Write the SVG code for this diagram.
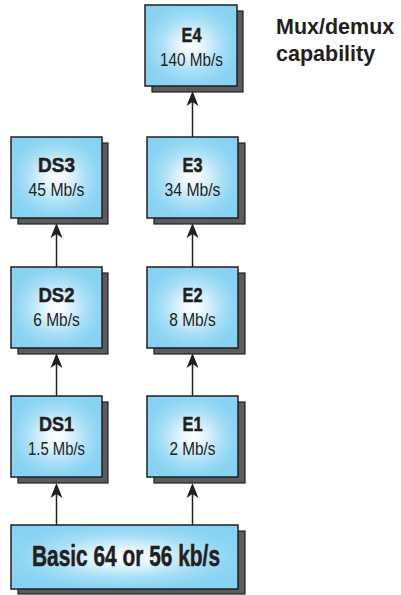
<svg xmlns="http://www.w3.org/2000/svg" width="401" height="595" viewBox="0 0 401 595">
<defs>
<radialGradient id="g" cx="0.5" cy="0.5" r="0.6">
<stop offset="0" stop-color="#ffffff"/>
<stop offset="0.15" stop-color="#f0fafe"/>
<stop offset="0.55" stop-color="#a8dff6"/>
<stop offset="0.8" stop-color="#8cd5f3"/>
<stop offset="1" stop-color="#86d2f2"/>
</radialGradient>
<style>
.sh{fill:#5b5b5d;stroke:#231f20;stroke-width:1.2}
.bx{fill:url(#g);stroke:#231f20;stroke-width:1.5}
.t{font-family:"Liberation Sans",Arial,sans-serif;font-weight:bold;font-size:21px;fill:#231f20;stroke:#231f20;stroke-width:0.5;text-anchor:middle}
.s{font-family:"Liberation Sans",Arial,sans-serif;font-size:18.5px;fill:#231f20;text-anchor:middle}
.b{font-family:"Liberation Sans",Arial,sans-serif;font-weight:bold;font-size:30px;fill:#231f20;stroke:#231f20;stroke-width:0.5;text-anchor:middle}
.c{stroke:#231f20;stroke-width:1.5;fill:none}
.a{fill:#231f20}
.lab{font-family:"Liberation Sans",Arial,sans-serif;font-weight:bold;font-size:21.5px;fill:#231f20}
</style>
</defs>
<g id="connectors">
<line class="c" x1="56.5" y1="525" x2="56.5" y2="486"/>
<path class="a" d="M56.5,483 l6,15 l-6,-4 l-6,4 Z"/>
<line class="c" x1="192.5" y1="525" x2="192.5" y2="486"/>
<path class="a" d="M192.5,483 l6,15 l-6,-4 l-6,4 Z"/>
<line class="c" x1="56.5" y1="396" x2="56.5" y2="356"/>
<path class="a" d="M56.5,353 l6,15 l-6,-4 l-6,4 Z"/>
<line class="c" x1="192.5" y1="396" x2="192.5" y2="356"/>
<path class="a" d="M192.5,353 l6,15 l-6,-4 l-6,4 Z"/>
<line class="c" x1="56.5" y1="267" x2="56.5" y2="226"/>
<path class="a" d="M56.5,223 l6,15 l-6,-4 l-6,4 Z"/>
<line class="c" x1="192.5" y1="267" x2="192.5" y2="226"/>
<path class="a" d="M192.5,223 l6,15 l-6,-4 l-6,4 Z"/>
<line class="c" x1="192.5" y1="137" x2="192.5" y2="94"/>
<path class="a" d="M192.5,91 l6,15 l-6,-4 l-6,4 Z"/>
</g>
<g id="E4">
<rect class="sh" x="152" y="11" width="91" height="81"/>
<rect class="bx" x="145" y="5" width="92" height="81"/>
<text class="t" x="191.5" y="41.5" textLength="20" lengthAdjust="spacingAndGlyphs">E4</text>
<text class="s" x="191.5" y="65.5" textLength="63" lengthAdjust="spacingAndGlyphs">140 Mb/s</text>
</g>
<g id="DS3">
<rect class="sh" x="18" y="143" width="90" height="81"/>
<rect class="bx" x="11" y="137" width="91" height="81"/>
<text class="t" x="56.5" y="172" textLength="37" lengthAdjust="spacingAndGlyphs">DS3</text>
<text class="s" x="56.5" y="196" textLength="56" lengthAdjust="spacingAndGlyphs">45 Mb/s</text>
</g>
<g id="E3">
<rect class="sh" x="154" y="143" width="91" height="81"/>
<rect class="bx" x="147" y="137" width="91" height="81"/>
<text class="t" x="192.5" y="172" textLength="20" lengthAdjust="spacingAndGlyphs">E3</text>
<text class="s" x="192.5" y="196" textLength="56" lengthAdjust="spacingAndGlyphs">34 Mb/s</text>
</g>
<g id="DS2">
<rect class="sh" x="18" y="273" width="90" height="81"/>
<rect class="bx" x="11" y="267" width="91" height="81"/>
<text class="t" x="56.5" y="301.7" textLength="36" lengthAdjust="spacingAndGlyphs">DS2</text>
<text class="s" x="56.5" y="325.7" textLength="46.5" lengthAdjust="spacingAndGlyphs">6 Mb/s</text>
</g>
<g id="E2">
<rect class="sh" x="154" y="273" width="91" height="81"/>
<rect class="bx" x="147" y="267" width="91" height="81"/>
<text class="t" x="192.5" y="301.7" textLength="20" lengthAdjust="spacingAndGlyphs">E2</text>
<text class="s" x="192.5" y="325.7" textLength="46.5" lengthAdjust="spacingAndGlyphs">8 Mb/s</text>
</g>
<g id="DS1">
<rect class="sh" x="18" y="402" width="90" height="81"/>
<rect class="bx" x="11" y="396" width="91" height="81"/>
<text class="t" x="56.5" y="430.5" textLength="35" lengthAdjust="spacingAndGlyphs">DS1</text>
<text class="s" x="56.5" y="454.5" textLength="57" lengthAdjust="spacingAndGlyphs">1.5 Mb/s</text>
</g>
<g id="E1">
<rect class="sh" x="154" y="402" width="91" height="81"/>
<rect class="bx" x="147" y="396" width="91" height="81"/>
<text class="t" x="192.5" y="430.5" textLength="20" lengthAdjust="spacingAndGlyphs">E1</text>
<text class="s" x="192.5" y="454.5" textLength="46" lengthAdjust="spacingAndGlyphs">2 Mb/s</text>
</g>
<g id="Basic">
<rect class="sh" x="18" y="531" width="227" height="63"/>
<rect class="bx" x="11" y="525" width="227" height="64"/>
<text class="b" x="126" y="566" textLength="188" lengthAdjust="spacingAndGlyphs">Basic 64 or 56 kb/s</text>
</g>
<g id="label">
<text class="lab" x="276" y="34">Mux/demux</text>
<text class="lab" x="276" y="61">capability</text>
</g>
</svg>
